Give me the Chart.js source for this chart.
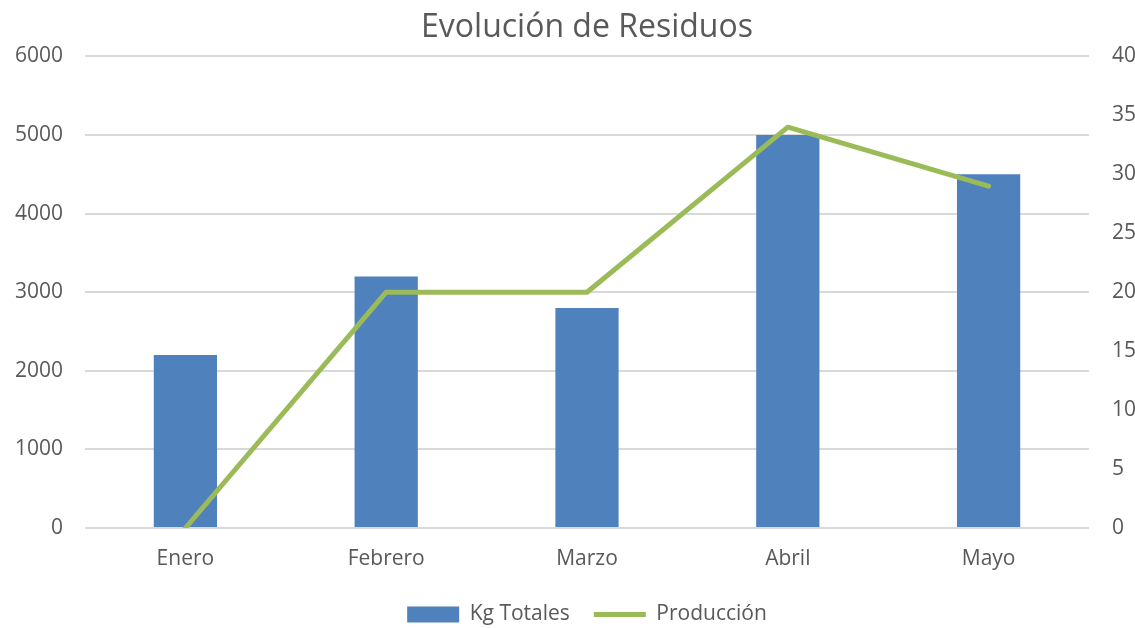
<!DOCTYPE html>
<html>
<head>
<meta charset="utf-8">
<script src="https://cdn.jsdelivr.net/npm/chart.js@4"></script>
<style>
  html, body { margin: 0; padding: 0; background: #fff; }
  #wrap { width: 1135px; height: 628px; }
</style>
</head>
<body>
<div id="wrap"><canvas id="chart"></canvas></div>
<script>
// data
const months = ['Enero', 'Febrero', 'Marzo', 'Abril', 'Mayo'];
const kgTotales = [2200, 3200, 2800, 5000, 4500];
const produccion = [0, 20, 20, 34, 29];

const textGray = '#595959';
const gridGray = '#d9d9d9';
const font = 'Open Sans';

Chart.defaults.font.family = font;
Chart.defaults.color = textGray;

new Chart(document.getElementById('chart'), {
  type: 'bar',
  data: {
    labels: months,
    datasets: [
      {
        type: 'line',
        label: 'Producción',
        data: produccion,
        yAxisID: 'y1',
        borderColor: '#9bbb59',
        backgroundColor: '#9bbb59',
        borderWidth: 5,
        borderCapStyle: 'round',
        borderJoinStyle: 'round',
        pointRadius: 0,
        pointStyle: 'line',
        tension: 0,
        order: 0,
      },
      {
        label: 'Kg Totales',
        data: kgTotales,
        yAxisID: 'y',
        backgroundColor: '#4f81bd',
        borderWidth: 0,
        pointStyle: 'rect',
        barPercentage: 0.5,
        categoryPercentage: 0.63,
        order: 1,
      },
    ],
  },
  options: {
    responsive: true,
    maintainAspectRatio: false,
    animation: false,
    layout: { padding: { top: 0, bottom: -7, left: 0, right: 0 } },
    scales: {
      x: {
        grid: { display: false, drawTicks: false },
        border: { display: false },
        ticks: { padding: 18, font: { size: 21 }, color: textGray },
        afterFit: s => { s.height = 52; },
      },
      y: {
        position: 'left',
        min: 0, max: 6000,
        ticks: { stepSize: 1000, padding: 22, font: { size: 21 }, color: textGray, callback: v => String(v) },
        grid: { color: gridGray, lineWidth: 2, drawTicks: false },
        border: { display: false },
        afterFit: s => { s.width = 85; },
      },
      y1: {
        position: 'right',
        min: 0, max: 40,
        ticks: { stepSize: 5, padding: 23, font: { size: 21 }, color: textGray, callback: v => String(v) },
        grid: { display: false, drawTicks: false },
        border: { display: false },
        afterFit: s => { s.width = 46; },
      },
    },
    plugins: {
      title: {
        display: true,
        fullSize: false,
        text: 'Evolución de Residuos',
        color: textGray,
        font: { size: 32, weight: 'normal' },
        padding: { top: 9, bottom: 9 },
      },
      legend: {
        position: 'bottom',
        fullSize: false,
        reverse: true,
        labels: {
          usePointStyle: true,
          pointStyleWidth: 52,
          boxHeight: 16,
          color: textGray,
          font: { size: 21 },
          padding: 24,
        },
      },
      tooltip: { enabled: false },
    },
  },
});
</script>
</body>
</html>
